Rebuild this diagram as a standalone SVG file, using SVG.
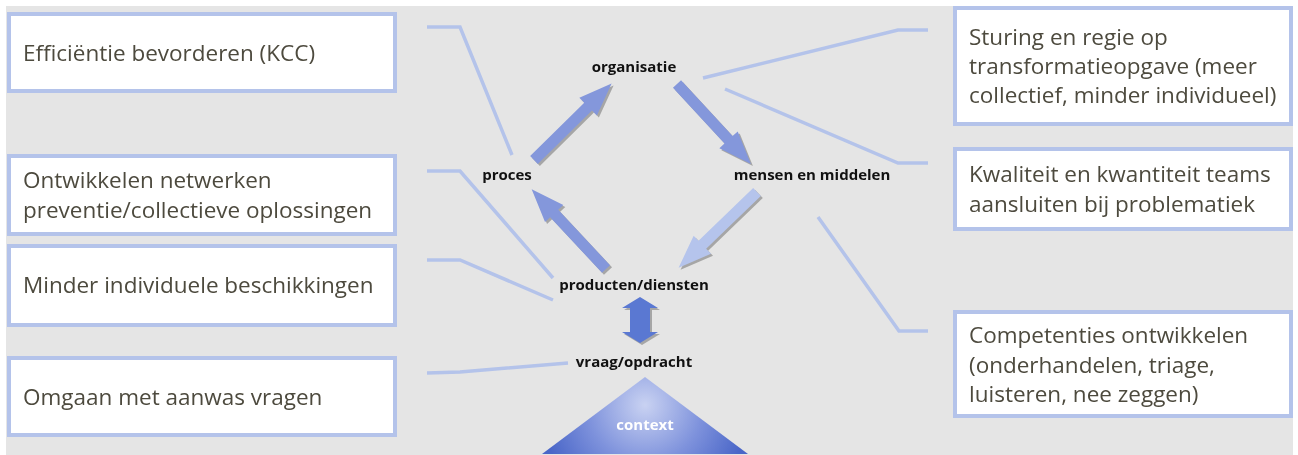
<svg xmlns="http://www.w3.org/2000/svg" width="1298" height="455" viewBox="0 0 1298 455">
<style>
.box{fill:#ffffff;stroke:#B4C3EA;stroke-width:4}
.bt{font-family:"Open Sans","Noto Sans",sans-serif;font-size:22.5px;fill:#4D4A3E}
.lbl{font-family:"Open Sans","Noto Sans",sans-serif;font-size:15px;font-weight:bold;fill:#111111;text-anchor:middle}
.con{fill:none;stroke:#B4C3EA;stroke-width:3.5;stroke-linejoin:miter}
.mid{fill:#8497DB}
.light{fill:#B5C4EC}
.shadow{fill:#8C8C8C;opacity:0.7}
</style>
<defs>
<path id="arr" d="M0,-5.5 L76,-5.5 L76,-12.5 L109,0 L76,12.5 L76,5.5 L0,5.5 Z"/>
<radialGradient id="ctx" gradientUnits="userSpaceOnUse" cx="645" cy="405" r="105">
<stop offset="0" stop-color="#C9D2F2"/>
<stop offset="0.55" stop-color="#7E92DC"/>
<stop offset="1" stop-color="#4A66C8"/>
</radialGradient>
</defs>
<rect x="6" y="6" width="1287" height="449" fill="#E5E5E5"/>

<g id="connectors">
<polyline class="con" points="427,27 460,27 512,155"/>
<polyline class="con" points="427,171 460,171 553,278"/>
<polyline class="con" points="427,260 460,260 553,300"/>
<polyline class="con" points="427,373 460,372 568,363"/>
<polyline class="con" points="703,78 898,30 928,30"/>
<polyline class="con" points="725,89 898,163 928,163"/>
<polyline class="con" points="818,217 899,331 928,331"/>
<g transform="translate(2,2)" class="shadow">
<use href="#arr" transform="translate(534,160) rotate(-44.6)"/>
<use href="#arr" transform="translate(677,84) rotate(47.3)"/>
<use href="#arr" transform="translate(757,192) rotate(136)"/>
<use href="#arr" transform="translate(606,269) rotate(-133)"/>
<path d="M622,308 L640,297 L658,308 L650,308 L650,332 L658,332 L640,343 L622,332 L630,332 L630,308 Z"/>
</g>
<use href="#arr" class="mid" transform="translate(534,160) rotate(-44.6)"/>
<use href="#arr" class="mid" transform="translate(677,84) rotate(47.3)"/>
<use href="#arr" class="light" transform="translate(757,192) rotate(136)"/>
<use href="#arr" class="mid" transform="translate(606,269) rotate(-133)"/>
<path d="M622,308 L640,297 L658,308 L650,308 L650,332 L658,332 L640,343 L622,332 L630,332 L630,308 Z" fill="#5A78D2"/>
</g>

<g id="box-efficientie">
<rect class="box" x="9" y="14" width="386" height="77"/>
<text class="bt" x="23" y="61">Efficiëntie bevorderen (KCC)</text>
</g>
<g id="box-netwerken">
<rect class="box" x="9" y="156" width="386" height="78"/>
<text class="bt" x="23" y="188">Ontwikkelen netwerken</text>
<text class="bt" x="23" y="218">preventie/collectieve oplossingen</text>
</g>
<g id="box-beschikkingen">
<rect class="box" x="9" y="246" width="386" height="79"/>
<text class="bt" x="23" y="293">Minder individuele beschikkingen</text>
</g>
<g id="box-aanwas">
<rect class="box" x="9" y="358" width="386" height="77"/>
<text class="bt" x="23" y="405">Omgaan met aanwas vragen</text>
</g>
<g id="box-sturing">
<rect class="box" x="955" y="8" width="336" height="116"/>
<text class="bt" x="969" y="45">Sturing en regie op</text>
<text class="bt" x="969" y="74">transformatieopgave (meer</text>
<text class="bt" x="969" y="103">collectief, minder individueel)</text>
</g>
<g id="box-kwaliteit">
<rect class="box" x="955" y="149" width="336" height="80"/>
<text class="bt" x="969" y="182">Kwaliteit en kwantiteit teams</text>
<text class="bt" x="969" y="212">aansluiten bij problematiek</text>
</g>
<g id="box-competenties">
<rect class="box" x="955" y="312" width="336" height="104"/>
<text class="bt" x="969" y="343">Competenties ontwikkelen</text>
<text class="bt" x="969" y="373">(onderhandelen, triage,</text>
<text class="bt" x="969" y="402">luisteren, nee zeggen)</text>
</g>

<g id="node-organisatie"><text class="lbl" x="634" y="72">organisatie</text></g>
<g id="node-proces"><text class="lbl" x="507" y="180">proces</text></g>
<g id="node-mensen"><text class="lbl" x="812" y="180">mensen en middelen</text></g>
<g id="node-producten"><text class="lbl" x="634" y="290">producten/diensten</text></g>
<g id="node-vraag"><text class="lbl" x="634" y="367">vraag/opdracht</text></g>
<g id="node-context">
<polygon points="645,377 748,454 542,454" fill="url(#ctx)"/>
<text x="645" y="430" font-family="'Open Sans','Noto Sans',sans-serif" font-size="15" font-weight="bold" fill="#ffffff" text-anchor="middle">context</text>
</g>
</svg>
